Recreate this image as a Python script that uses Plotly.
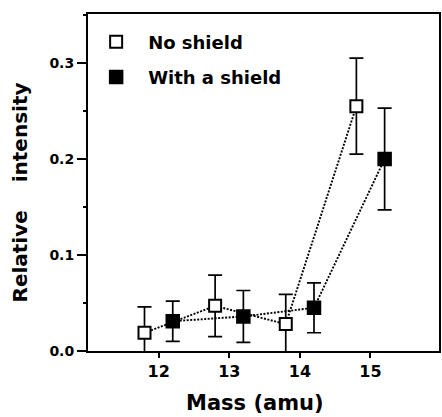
import plotly.graph_objects as go

# Data
mass_ticks = [12, 13, 14, 15]
no_shield_x = [11.8, 12.8, 13.8, 14.8]
no_shield_y = [0.019, 0.047, 0.028, 0.255]
no_shield_err = [0.027, 0.032, 0.031, 0.050]
shield_x = [12.2, 13.2, 14.2, 15.2]
shield_y = [0.031, 0.036, 0.045, 0.200]
shield_err = [0.021, 0.027, 0.026, 0.053]
y_ticks = [0.0, 0.1, 0.2, 0.3]
y_tick_text = ["0.0", "0.1", "0.2", "0.3"]

FONT = "DejaVu Sans"
dotline = dict(color="black", width=1.9, dash="2px,1.5px")

fig = go.Figure()
fig.add_trace(go.Scatter(x=no_shield_x, y=no_shield_y, mode="lines", line=dotline,
                         showlegend=False, hoverinfo="skip"))
fig.add_trace(go.Scatter(x=shield_x, y=shield_y, mode="lines", line=dotline,
                         showlegend=False, hoverinfo="skip"))
fig.add_trace(go.Scatter(
    x=no_shield_x, y=no_shield_y, mode="markers", name="No shield", legendgroup="a",
    marker=dict(symbol="square", size=12, color="white", line=dict(color="black", width=2)),
    error_y=dict(type="data", array=no_shield_err, color="black", thickness=1.7, width=7),
))
fig.add_trace(go.Scatter(
    x=shield_x, y=shield_y, mode="markers", name="With a shield", legendgroup="b",
    marker=dict(symbol="square", size=13, color="black", line=dict(color="black", width=1.5)),
    error_y=dict(type="data", array=shield_err, color="black", thickness=1.7, width=7),
))

fig.update_layout(
    width=442, height=417,
    margin=dict(l=88, r=1, t=14, b=66),
    paper_bgcolor="white", plot_bgcolor="white",
    font=dict(family=FONT, color="black"),
    showlegend=True,
    legend=dict(x=-0.011, y=0.972, xanchor="left", yanchor="top", bgcolor="rgba(0,0,0,0)",
                font=dict(family=FONT, size=18, weight="bold", color="black"),
                itemwidth=54, tracegroupgap=9, traceorder="grouped"),
    xaxis=dict(range=[11.0, 15.97], tickvals=mass_ticks, ticks="outside", ticklen=5,
               tickwidth=1.5, tickcolor="black", showline=True, linecolor="black",
               linewidth=2, mirror=True, showgrid=False, zeroline=False,
               tickfont=dict(family=FONT, size=16, weight="bold", color="black")),
    yaxis=dict(range=[0, 0.351], tickvals=y_ticks, ticktext=y_tick_text, ticks="outside",
               ticklen=9, tickwidth=1.5, tickcolor="black", showline=True, linecolor="black",
               linewidth=2, mirror=True, showgrid=False, zeroline=False,
               minor=dict(dtick=0.05, ticks="outside", ticklen=3, tickcolor="black", tickwidth=1.5),
               tickfont=dict(family=FONT, size=14, weight="bold", color="black")),
    annotations=[
        dict(text="Mass (amu)", xref="paper", yref="paper", x=0.476, y=-0.153,
             xanchor="center", yanchor="middle", showarrow=False,
             font=dict(family=FONT, size=21, weight="bold", color="black")),
        dict(text="Relative\u00a0\u00a0\u00a0\u00a0intensity", xref="paper", yref="paper",
             x=-0.194, y=0.47, xanchor="center", yanchor="middle", textangle=-90,
             showarrow=False, font=dict(family=FONT, size=20, weight="bold", color="black")),
    ],
)

fig.write_html("out.html")
